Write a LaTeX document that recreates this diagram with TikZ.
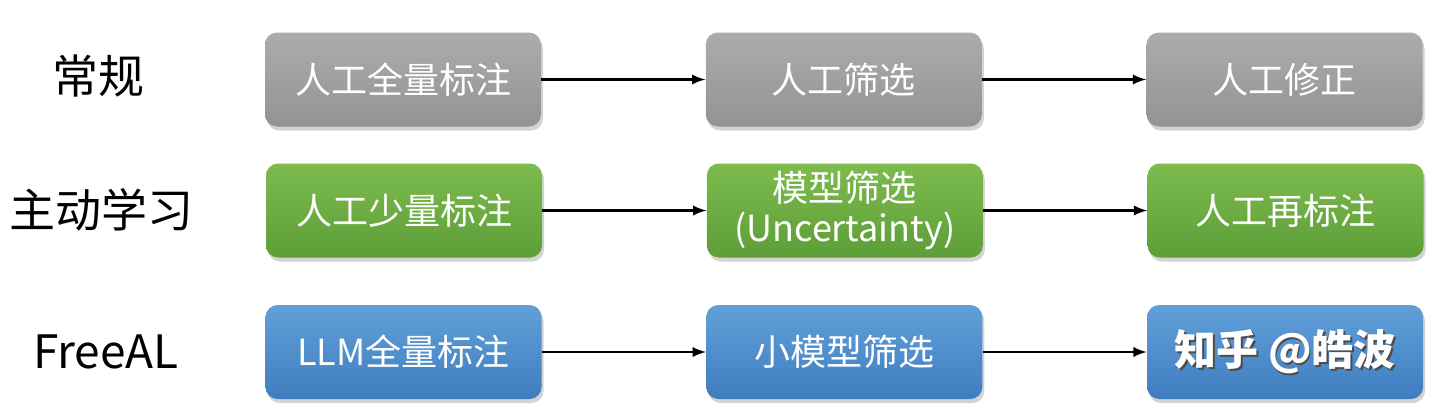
\documentclass[tikz,border=0pt]{standalone}
\usepackage{fontspec}
\setmainfont{Noto Sans CJK SC}
\usetikzlibrary{positioning, shadows, arrows.meta}

\definecolor{grayTop}{HTML}{ACACAC}
\definecolor{grayBot}{HTML}{939393}
\definecolor{greenTop}{HTML}{7DBB4E}
\definecolor{greenBot}{HTML}{5E9E38}
\definecolor{blueTop}{HTML}{61A0D8}
\definecolor{blueBot}{HTML}{3F7DC0}

\begin{document}
\begin{tikzpicture}[x=1pt,y=1pt,node distance=82pt,>=latex,font=\fontsize{18}{20}\selectfont]

	\tikzstyle{box}=[rounded corners=6pt,minimum width=138pt,minimum height=47pt,inner sep=2pt,
		align=center,text=white,drop shadow={shadow xshift=1pt,shadow yshift=-2pt,opacity=0.35}]
	\tikzstyle{plain}=[box,top color=grayTop,bottom color=grayBot]
	\tikzstyle{active}=[box,top color=greenTop,bottom color=greenBot]
	\tikzstyle{free}=[box,top color=blueTop,bottom color=blueBot]
	\tikzstyle{rowlabel}=[font=\fontsize{23}{26}\selectfont,text=black]
	\tikzstyle{flow}=[->,line width=1.3pt]

	\useasboundingbox (0,0) rectangle (720,-209);

	% row labels
	\node[rowlabel] (l1) at (49,-38) {常规};
	\node[rowlabel] (l2) at (51,-105) {主动学习};
	\node[rowlabel] (l3) at (53,-176) {FreeAL};

	% conventional
	\node[plain] (a1) at (201.5,-39.75) {人工全量标注};
	\node[plain,right=of a1] (a2) {人工筛选};
	\node[plain,right=of a2] (a3) {人工修正};

	% active learning
	\node[active] (b1) at (202,-105.25) {人工少量标注};
	\node[active,right=of b1] (b2) {模型筛选\\(Uncertainty)};
	\node[active,right=of b2] (b3) {人工再标注};

	% FreeAL
	\node[free] (c1) at (201.75,-176) {LLM全量标注};
	\node[free,right=of c1] (c2) {小模型筛选};
	\node[free,right=of c2] (c3) {};
	\node[text=black!70,font=\fontsize{21}{24}\selectfont\bfseries] (wm0) at ([xshift=0.8pt,yshift=-0.8pt]c3) {知乎 @皓波};
	\node[text=white,font=\fontsize{21}{24}\selectfont\bfseries] (wm) at (c3) {知乎 @皓波};

	\draw[flow] (a1) -- (a2);
	\draw[flow] (a2) -- (a3);
	\draw[flow] (b1) -- (b2);
	\draw[flow] (b2) -- (b3);
	\draw[flow] (c1) -- (c2);
	\draw[flow] (c2) -- (c3);
\end{tikzpicture}
\end{document}
